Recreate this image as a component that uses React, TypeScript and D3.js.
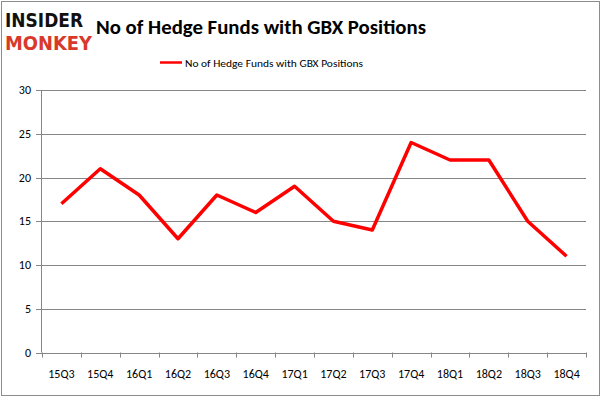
import { useEffect, useRef } from 'react';
import * as d3 from 'd3';

const quarters = ['15Q3', '15Q4', '16Q1', '16Q2', '16Q3', '16Q4', '17Q1', '17Q2', '17Q3', '17Q4', '18Q1', '18Q2', '18Q3', '18Q4'];
const funds = [17, 21, 18, 13, 18, 16, 19, 15, 14, 24, 22, 22, 15, 11];
const yTicks = [0, 5, 10, 15, 20, 25, 30];
const title = 'No of Hedge Funds with GBX Positions';
const seriesName = 'No of Hedge Funds with GBX Positions';

export default function App() {
  const ref = useRef<SVGSVGElement>(null);

  useEffect(() => {
    const svg = d3.select(ref.current);
    svg.selectAll('*').remove();

    const width = 602;
    const height = 398;
    const font = 'Calibri, Carlito, "Open Sans", sans-serif';

    svg.attr('width', width).attr('height', height);

    svg.append('rect')
      .attr('x', 0).attr('y', 0).attr('width', width).attr('height', height)
      .attr('fill', '#ffffff');

    // outer frame
    svg.append('rect')
      .attr('x', 1.5).attr('y', 1.5).attr('width', width - 4).attr('height', height - 4)
      .attr('fill', 'none')
      .attr('stroke', '#8c8c8c')
      .attr('stroke-width', 1);

    const x = d3.scaleBand<string>().domain(quarters).range([42, 586]);
    const y = d3.scaleLinear().domain([0, 30]).range([352.5, 90]);

    const g = svg.append('g');

    // gridlines
    g.selectAll('line.grid')
      .data(yTicks)
      .join('line')
      .attr('class', 'grid')
      .attr('x1', 36).attr('x2', 586)
      .attr('y1', (d) => Math.round(y(d)) + 0.5)
      .attr('y2', (d) => Math.round(y(d)) + 0.5)
      .attr('stroke', '#868686');

    // y axis line
    g.append('line')
      .attr('x1', 41.5).attr('x2', 41.5)
      .attr('y1', y(30)).attr('y2', y(0))
      .attr('stroke', '#868686');

    // x ticks at category boundaries
    const bounds = quarters.map((q) => x(q) as number).concat([586]);
    g.selectAll('line.xtick')
      .data(bounds)
      .join('line')
      .attr('class', 'xtick')
      .attr('x1', (d) => Math.round(d) + 0.5).attr('x2', (d) => Math.round(d) + 0.5)
      .attr('y1', y(0)).attr('y2', y(0) + 5)
      .attr('stroke', '#868686');

    // y labels
    g.selectAll('text.ylab')
      .data(yTicks)
      .join('text')
      .attr('class', 'ylab')
      .attr('x', 31)
      .attr('y', (d) => y(d) + 4)
      .attr('text-anchor', 'end')
      .attr('font-family', font)
      .attr('font-size', 12)
      .attr('fill', '#000')
      .text((d) => d);

    // x labels
    g.selectAll('text.xlab')
      .data(quarters)
      .join('text')
      .attr('class', 'xlab')
      .attr('x', (d) => (x(d) as number) + x.bandwidth() / 2)
      .attr('y', 378)
      .attr('text-anchor', 'middle')
      .attr('font-family', font)
      .attr('font-size', 12)
      .attr('fill', '#000')
      .text((d) => d);

    // line
    g.append('path')
      .datum(funds)
      .attr('fill', 'none')
      .attr('stroke', '#ff0000')
      .attr('stroke-width', 3.5)
      .attr('stroke-linejoin', 'round')
      .attr('d', d3.line<number>()
        .x((d, i) => (x(quarters[i]) as number) + x.bandwidth() / 2)
        .y((d) => y(d)));

    // title
    svg.append('text')
      .attr('x', 96).attr('y', 34)
      .attr('font-family', font)
      .attr('font-weight', 'bold')
      .attr('font-size', 21)
      .attr('textLength', 330)
      .attr('lengthAdjust', 'spacingAndGlyphs')
      .attr('fill', '#000')
      .text(title);

    // legend
    svg.append('line')
      .attr('x1', 160).attr('x2', 182)
      .attr('y1', 62.5).attr('y2', 62.5)
      .attr('stroke', '#ff0000')
      .attr('stroke-width', 2.5);
    svg.append('text')
      .attr('x', 185).attr('y', 66.5)
      .attr('font-family', font)
      .attr('font-size', 11)
      .attr('textLength', 178)
      .attr('lengthAdjust', 'spacingAndGlyphs')
      .attr('fill', '#000')
      .text(seriesName);

    // logo
    svg.append('text')
      .attr('x', 5).attr('y', 27)
      .attr('font-family', '"DejaVu Sans", sans-serif')
      .attr('font-weight', 'bold')
      .attr('font-size', 19)
      .attr('textLength', 78)
      .attr('lengthAdjust', 'spacingAndGlyphs')
      .attr('fill', '#111')
      .text('INSIDER');
    svg.append('text')
      .attr('x', 5).attr('y', 50)
      .attr('font-family', '"DejaVu Sans", sans-serif')
      .attr('font-weight', 'bold')
      .attr('font-size', 19)
      .attr('textLength', 87)
      .attr('lengthAdjust', 'spacingAndGlyphs')
      .attr('fill', '#d9392b')
      .text('MONKEY');
  }, []);

  return <svg ref={ref} style={{ position: 'absolute', left: 0, top: 0 }}></svg>;
}
